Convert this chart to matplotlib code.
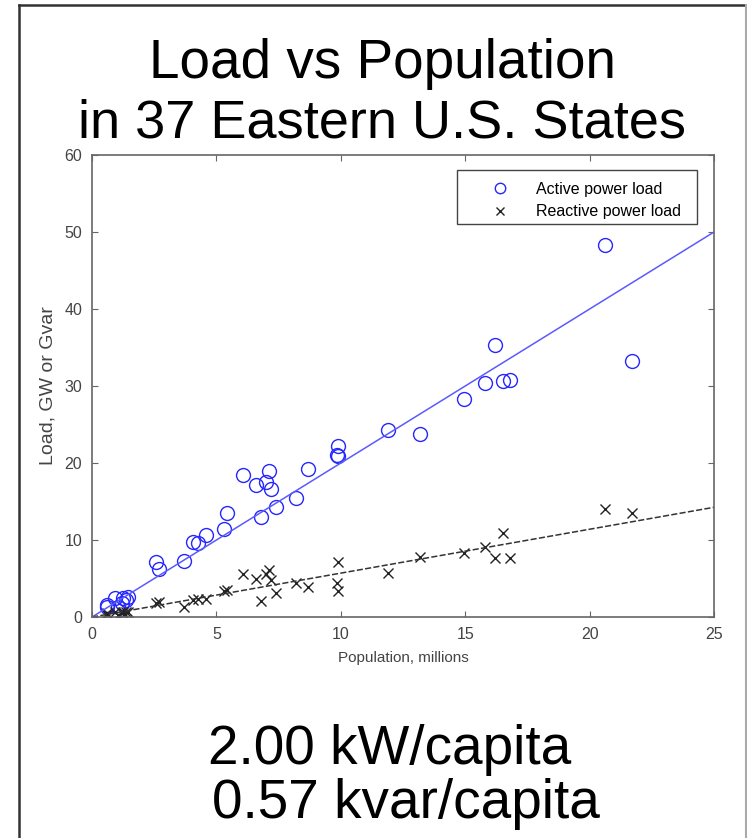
import numpy as np
import matplotlib.pyplot as plt
from matplotlib.lines import Line2D
from matplotlib.patches import Rectangle

plt.rcParams['font.family'] = ['Liberation Sans', 'DejaVu Sans']

# population (millions) for each state
population = [20.6, 21.7, 16.2, 15.8, 16.5, 16.8, 14.95, 11.9, 13.2, 9.9,
              9.85, 9.88, 8.7, 8.2, 7.4, 7.2, 7.1, 7.0, 6.8, 6.6,
              6.07, 5.43, 5.3, 4.58, 4.27, 4.07, 3.7, 2.7, 2.57, 0.6,
              0.6, 0.92, 1.05, 1.2, 1.25, 1.45, 1.35]
# active power load, GW
active_load = [48.3, 33.2, 35.3, 30.4, 30.6, 30.8, 28.3, 24.3, 23.8, 22.2,
               21.1, 20.9, 19.2, 15.4, 14.3, 16.6, 19.0, 17.6, 13.0, 17.1,
               18.5, 13.5, 11.4, 10.6, 9.6, 9.7, 7.3, 6.2, 7.1, 1.3,
               1.6, 2.5, 1.3, 1.8, 2.5, 2.6, 2.2]
# reactive power load, Gvar
reactive_load = [14.0, 13.5, 7.7, 9.1, 10.9, 7.7, 8.3, 5.7, 7.8, 7.1,
                 4.4, 3.4, 3.9, 4.4, 3.1, 4.8, 6.1, 5.6, 2.1, 4.9,
                 5.6, 3.5, 3.4, 2.4, 2.3, 2.2, 1.3, 1.9, 1.8, 0.3,
                 0.5, 0.6, 0.3, 0.5, 0.7, 0.7, 0.6]

kw_per_capita = 2.00
kvar_per_capita = 0.57

fig = plt.figure(figsize=(7.47, 8.38), dpi=100)
ax = fig.add_axes([0.1232, 0.2637, 0.8326, 0.5513])

ax.plot(population, active_load, 'o', ms=10, mfc='none', mec='#2626ff',
        mew=1.0, label='Active power load')
ax.plot(population, reactive_load, 'x', ms=7, color='#222222',
        mew=1.0, label='Reactive power load')

xfit = np.array([0, 25])
ax.plot(xfit, kw_per_capita * xfit, '-', color='#5a5aff', lw=1.1)
ax.plot(xfit, kvar_per_capita * xfit, '--', color='#333333', lw=1.1,
        dashes=(4, 1.5))

ax.set_xlim(0, 25)
ax.set_ylim(0, 60)
ax.set_xticks(range(0, 26, 5))
ax.set_yticks(range(0, 61, 10))

gray = '#444444'
for s in ax.spines.values():
    s.set_color('#666666')
    s.set_linewidth(1.2)
ax.tick_params(direction='in', top=True, right=True, length=4,
               color='#666666', labelcolor=gray, labelsize=11.5, pad=7)
ax.set_xlabel('Population, millions', color=gray, fontsize=11, labelpad=7)
ax.set_ylabel('Load, GW or Gvar', color=gray, fontsize=14, labelpad=6)

# legend box drawn separately so it can be wider than its entries
ax.add_patch(Rectangle((0.587, 0.8506), 0.3857, 0.1169,
                       transform=ax.transAxes, fill=False,
                       edgecolor='#444444', lw=1.0, zorder=5))
ax.legend(loc='upper left', bbox_to_anchor=(0.587, 0.9675),
          fontsize=11.5, frameon=False, borderpad=0.25, handlelength=3.9,
          labelspacing=0.45, handletextpad=0.3, markerscale=0.75)

fig.text(0.512, 0.907, 'Load vs Population', ha='center', va='baseline',
         fontsize=39.5)
fig.text(0.512, 0.8365, 'in 37 Eastern U.S. States', ha='center',
         va='baseline', fontsize=39)
fig.text(0.522, 0.0883, f'{kw_per_capita:.2f} kW/capita', ha='center',
         va='baseline', fontsize=39.5)
fig.text(0.544, 0.0239, f'{kvar_per_capita:.2f} kvar/capita', ha='center',
         va='baseline', fontsize=39.5)

# frame around the whole slide
fig.add_artist(Line2D([0.0248, 0.0248], [-0.01, 0.9935],
                      transform=fig.transFigure, color='#333333', lw=1.8))
fig.add_artist(Line2D([0.0248, 1.0], [0.9935, 0.9935],
                      transform=fig.transFigure, color='#333333', lw=1.8))
fig.add_artist(Line2D([0.999, 0.999], [-0.01, 0.9935],
                      transform=fig.transFigure, color='#aaaaaa', lw=1.5))

fig.savefig('out.png', dpi=100)
